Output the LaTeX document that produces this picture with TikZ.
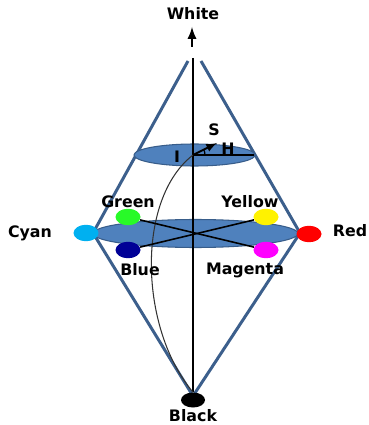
\documentclass[tikz,border=0pt]{standalone}
\usepackage{fontspec}
\setmainfont{DejaVu Sans}
\usetikzlibrary{shapes.geometric}
\definecolor{discfill}{RGB}{79,129,189}
\definecolor{discedge}{RGB}{56,93,138}
\definecolor{conecol}{RGB}{60,95,140}
\definecolor{cyandot}{RGB}{0,176,240}
\definecolor{greendot}{RGB}{40,250,40}
\definecolor{bluedot}{RGB}{0,0,150}
\definecolor{magentadot}{RGB}{255,0,255}
\tikzset{
  lbl/.style={font=\fontsize{9}{10}\selectfont\bfseries, inner sep=0pt},
  dot/.style={ellipse, minimum width=0.5cm, minimum height=0.33cm, inner sep=0pt},
  cone/.style={line width=1.7pt, conecol},
  disc/.style={fill=discfill, draw=discedge, line width=0.6pt},
  xline/.style={line width=0.9pt, black}
}
\begin{document}
\begin{tikzpicture}[x=0.02cm, y=-0.02cm]
    \useasboundingbox (0,0) rectangle (368,425);
    %--- cone points ---
    \coordinate (topL) at (188,61);
    \coordinate (topR) at (201,61);
    \coordinate (leftV) at (93,233);
    \coordinate (rightV) at (300,233);
    \coordinate (botV) at (193,396);
    \coordinate (axtop) at (193,58);
    \coordinate (hsi) at (193,155);
    \coordinate (hend) at (254,155);
    \coordinate (send) at (217,143);
    %--- double cone ---
    \draw[cone] (topL) -- (leftV) -- (botV);
    \draw[cone] (topR) -- (rightV) -- (botV);
    %--- discs ---
    \draw[disc] (194.5,155) ellipse [x radius=60.5, y radius=11];
    \draw[disc] (195.5,233.5) ellipse [x radius=102.5, y radius=14];
    %--- black point and axis ---
    \node[dot, fill=black, minimum width=0.48cm, minimum height=0.3cm] (black) at (193,400) {};
    \draw[line width=1.2pt] (axtop) -- (black.north);
    \node[lbl] (blacklbl) at (193,416) {Black};
    %--- white arrow ---
    \coordinate (arrbot) at (192,47);
    \coordinate (arrtop) at (192,27);
    \node[lbl] (whitelbl) at (193,14) {White};
    \draw[-latex, line width=1.3pt] (arrbot) -- (arrtop);
    %--- I, H, S ---
    \draw[black!80, line width=0.6pt] (hsi) .. controls (135,200) and (140,330) .. (black.north);
    \draw[line width=0.9pt] (hsi) -- (hend);
    \draw[-latex, line width=1.1pt] (hsi) -- (send);
    \draw[line width=0.7pt] (205,155) arc[start angle=0, end angle=-27, radius=12];
    \node[lbl] (ilbl) at (177,157) {I};
    \node[lbl] (hlbl) at (228,149) {H};
    \node[lbl] (slbl) at (214,130) {S};
    %--- colour points ---
    \node[dot, fill=cyandot] (cyan) at (86,233) {};
    \node[dot, fill=red] (red) at (309,234) {};
    \node[dot, fill=greendot] (green) at (128,217) {};
    \node[dot, fill=yellow] (yellow) at (266,217) {};
    \node[dot, fill=bluedot] (blue) at (128,250) {};
    \node[dot, fill=magentadot] (magenta) at (266,250) {};
    \draw[xline] (green) -- (magenta);
    \draw[xline] (blue) -- (yellow);
    %--- labels ---
    \node[lbl] (cyanlbl) at (30,233) {Cyan};
    \node[lbl] (redlbl) at (350,231) {Red};
    \node[lbl] (greenlbl) at (128,202) {Green};
    \node[lbl] (yellowlbl) at (250,202) {Yellow};
    \node[lbl] (bluelbl) at (140,270) {Blue};
    \node[lbl] (magentalbl) at (245,270) {Magenta};
\end{tikzpicture}
\end{document}
